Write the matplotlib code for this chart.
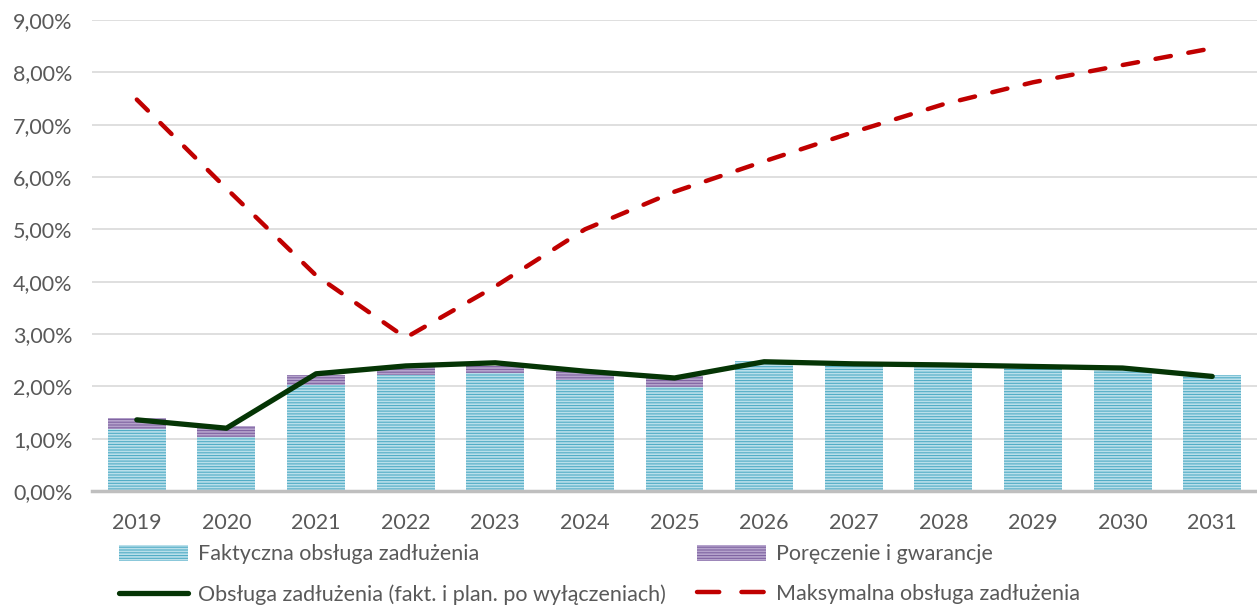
import numpy as np
import matplotlib.pyplot as plt
from matplotlib.lines import Line2D
from matplotlib.ticker import FuncFormatter

plt.rcParams['font.family'] = ['Lato', 'DejaVu Sans']

# dane (w %)
lata = ['2019', '2020', '2021', '2022', '2023', '2024', '2025',
        '2026', '2027', '2028', '2029', '2030', '2031']
faktyczna = [1.19, 1.03, 2.03, 2.21, 2.26, 2.12, 1.99,
             2.49, 2.39, 2.37, 2.35, 2.31, 2.22]
poreczenia = [0.21, 0.21, 0.19, 0.17, 0.13, 0.17, 0.21,
              0.0, 0.0, 0.0, 0.0, 0.0, 0.0]
obsluga = [1.36, 1.20, 2.24, 2.39, 2.45, 2.29, 2.16,
           2.47, 2.43, 2.41, 2.38, 2.35, 2.19]
maksymalna = [7.48, 5.78, 4.12, 2.93, 3.91, 5.00, 5.72,
              6.30, 6.86, 7.39, 7.81, 8.14, 8.46]

szary = '#595959'
fs = 15.5
x = np.arange(len(lata))

fig = plt.figure(figsize=(12.57, 6.05), dpi=100)
ax = fig.add_axes([0.0732, 0.1884, 0.9268, 0.7785])

plt.rcParams['hatch.linewidth'] = 1.2
b1 = ax.bar(x, faktyczna, width=0.646, color='#52adc6', edgecolor='#b9dfea',
            hatch='------', linewidth=0, zorder=2)
b2 = ax.bar(x, poreczenia, width=0.646, bottom=faktyczna, color='#8064a2',
            edgecolor='#b5a3cc', hatch='------', linewidth=0, zorder=2)
l1, = ax.plot(x, obsluga, color='#053505', lw=3.8, solid_capstyle='round',
              solid_joinstyle='round', zorder=3)
l2, = ax.plot(x, maksymalna, color='#c00000', lw=3.2, dashes=(3.5, 4.0),
              dash_capstyle='round', zorder=3)
# osobny uchwyt do legendy, zeby byly dwie kreski
l2_leg = Line2D([], [], color='#c00000', lw=3.2, dashes=(5, 5),
                dash_capstyle='round')

ax.set_xlim(-0.5, 12.5)
ax.set_ylim(0, 9)
ax.set_yticks(np.arange(0, 10, 1))
ax.yaxis.set_major_formatter(FuncFormatter(lambda v, p: f'{v:.2f}%'.replace('.', ',')))
ax.set_xticks(x)
ax.set_xticklabels(lata)
ax.grid(axis='y', color='#d9d9d9', lw=1.2, zorder=0)
ax.set_axisbelow(True)
for s in ['top', 'right', 'left']:
    ax.spines[s].set_visible(False)
ax.spines['bottom'].set_color('#bfbfbf')
ax.spines['bottom'].set_linewidth(2.5)
ax.spines['bottom'].set_zorder(4)
ax.tick_params(axis='both', length=0, labelsize=fs, labelcolor=szary)
ax.tick_params(axis='x', pad=16)
ax.tick_params(axis='y', pad=14)

fig.legend([b1, l1, b2, l2_leg],
           ['Faktyczna obsługa zadłużenia',
            'Obsługa zadłużenia (fakt. i plan. po wyłączeniach)',
            'Poręczenie i gwarancje',
            'Maksymalna obsługa zadłużenia'],
           ncol=2, loc='upper left', bbox_to_anchor=(0.095, 0.100),
           frameon=False, fontsize=fs, labelcolor=szary,
           handlelength=3.2, handleheight=0.8, handletextpad=0.45,
           columnspacing=1.45, labelspacing=0.92, borderaxespad=0, borderpad=0)

fig.savefig('out.png', dpi=100)
